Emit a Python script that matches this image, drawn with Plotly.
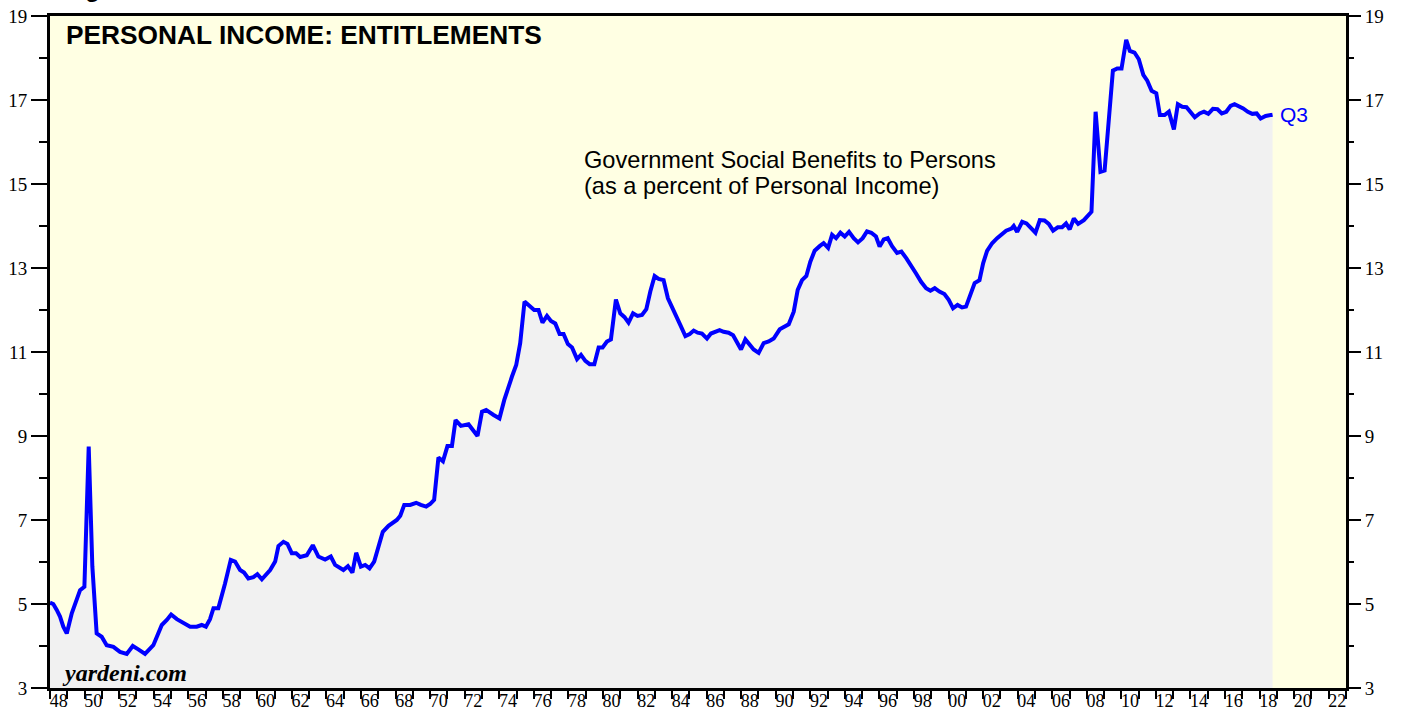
import plotly.graph_objects as go

# ---- data ----
years = [
    1948.00, 1948.19, 1948.39, 1948.58, 1948.77, 1948.97, 1949.26, 1949.55, 1949.74, 1949.99,
    1950.24, 1950.45, 1950.70, 1950.99, 1951.28, 1951.67, 1952.05, 1952.44, 1952.79, 1953.11,
    1953.50, 1953.98, 1954.47, 1954.76, 1955.01, 1955.34, 1955.72, 1956.11, 1956.49, 1956.78,
    1957.02, 1957.26, 1957.46, 1957.74, 1958.13, 1958.46, 1958.71, 1959.00, 1959.23, 1959.48,
    1959.77, 1960.00, 1960.26, 1960.74, 1961.03, 1961.22, 1961.51, 1961.74, 1961.99, 1962.24,
    1962.48, 1962.86, 1963.21, 1963.53, 1963.92, 1964.25, 1964.50, 1964.98, 1965.24, 1965.50,
    1965.72, 1965.99, 1966.24, 1966.49, 1966.76, 1967.01, 1967.26, 1967.59, 1968.07, 1968.27,
    1968.50, 1968.84, 1969.19, 1969.46, 1969.77, 1970.00, 1970.23, 1970.48, 1970.74, 1971.00,
    1971.26, 1971.47, 1971.78, 1972.22, 1972.51, 1972.74, 1973.00, 1973.24, 1973.67, 1974.01,
    1974.29, 1974.54, 1974.73, 1974.98, 1975.21, 1975.46, 1975.75, 1976.02, 1976.27, 1976.50,
    1976.76, 1976.99, 1977.24, 1977.49, 1977.72, 1977.97, 1978.21, 1978.50, 1978.73, 1978.98,
    1979.23, 1979.50, 1979.75, 1979.98, 1980.23, 1980.46, 1980.75, 1981.00, 1981.25, 1981.48,
    1981.74, 1982.00, 1982.26, 1982.51, 1982.74, 1982.99, 1983.22, 1983.51, 1983.76, 1984.00,
    1984.25, 1984.48, 1984.77, 1985.02, 1985.25, 1985.48, 1985.73, 1986.02, 1986.25, 1986.50,
    1986.75, 1986.98, 1987.27, 1987.53, 1987.76, 1987.99, 1988.24, 1988.49, 1988.72, 1989.01,
    1989.30, 1989.59, 1989.88, 1990.23, 1990.52, 1990.75, 1991.04, 1991.27, 1991.52, 1991.77,
    1992.00, 1992.25, 1992.54, 1992.77, 1993.03, 1993.26, 1993.49, 1993.74, 1993.99, 1994.24,
    1994.51, 1994.76, 1995.03, 1995.28, 1995.53, 1995.80, 1996.01, 1996.25, 1996.48, 1996.73,
    1997.02, 1997.27, 1997.56, 1997.83, 1998.12, 1998.41, 1998.70, 1998.95, 1999.20, 1999.47,
    1999.76, 2000.01, 2000.26, 2000.52, 2000.78, 2001.01, 2001.26, 2001.51, 2001.79, 2002.00,
    2002.23, 2002.52, 2002.81, 2003.06, 2003.33, 2003.64, 2003.77, 2003.97, 2004.26, 2004.51,
    2004.78, 2005.03, 2005.28, 2005.55, 2005.80, 2006.05, 2006.32, 2006.57, 2006.80, 2007.01,
    2007.25, 2007.50, 2007.83, 2008.06, 2008.27, 2008.51, 2008.79, 2009.03, 2009.28, 2009.51,
    2009.76, 2010.01, 2010.28, 2010.49, 2010.76, 2011.01, 2011.27, 2011.50, 2011.75, 2012.02,
    2012.23, 2012.50, 2012.75, 2013.04, 2013.27, 2013.52, 2013.77, 2014.01, 2014.25, 2014.53,
    2014.78, 2015.03, 2015.30, 2015.56, 2015.81, 2016.07, 2016.32, 2016.55, 2016.80, 2017.05,
    2017.32, 2017.58, 2017.83, 2018.06, 2018.35, 2018.68, 2018.75,
]
benefits_pct = [
    5.03, 5.00, 4.86, 4.70, 4.46, 4.30, 4.78, 5.14, 5.33, 5.41,
    8.75, 5.90, 4.30, 4.22, 4.02, 3.98, 3.86, 3.81, 4.00, 3.92,
    3.81, 4.02, 4.50, 4.62, 4.75, 4.64, 4.54, 4.46, 4.46, 4.50,
    4.46, 4.64, 4.90, 4.90, 5.49, 6.05, 6.01, 5.81, 5.75, 5.61,
    5.64, 5.71, 5.59, 5.81, 6.01, 6.38, 6.48, 6.43, 6.21, 6.21,
    6.12, 6.16, 6.40, 6.13, 6.06, 6.13, 5.93, 5.81, 5.90, 5.75,
    6.22, 5.89, 5.93, 5.85, 6.01, 6.36, 6.72, 6.86, 7.00, 7.10,
    7.36, 7.36, 7.41, 7.36, 7.32, 7.38, 7.48, 8.49, 8.40, 8.76,
    8.76, 9.38, 9.24, 9.28, 9.14, 9.00, 9.58, 9.62, 9.50, 9.42,
    9.86, 10.21, 10.41, 10.69, 11.21, 12.20, 12.10, 12.00, 12.00, 11.70,
    11.86, 11.74, 11.68, 11.43, 11.43, 11.19, 11.11, 10.83, 10.93, 10.79,
    10.71, 10.71, 11.11, 11.11, 11.25, 11.30, 12.25, 11.92, 11.83, 11.70,
    11.92, 11.86, 11.88, 12.02, 12.44, 12.81, 12.74, 12.71, 12.28, 12.08,
    11.88, 11.64, 11.38, 11.43, 11.51, 11.46, 11.44, 11.32, 11.44, 11.48,
    11.52, 11.48, 11.46, 11.40, 11.25, 11.06, 11.30, 11.17, 11.06, 10.98,
    11.21, 11.25, 11.32, 11.54, 11.60, 11.66, 11.96, 12.48, 12.71, 12.81,
    13.15, 13.41, 13.52, 13.59, 13.48, 13.79, 13.71, 13.84, 13.75, 13.86,
    13.71, 13.61, 13.71, 13.87, 13.84, 13.75, 13.51, 13.68, 13.71, 13.52,
    13.36, 13.39, 13.23, 13.07, 12.87, 12.67, 12.52, 12.46, 12.52, 12.44,
    12.38, 12.24, 12.04, 12.12, 12.06, 12.08, 12.36, 12.64, 12.71, 13.11,
    13.41, 13.59, 13.71, 13.79, 13.89, 13.94, 14.00, 13.86, 14.10, 14.06,
    13.96, 13.84, 14.14, 14.13, 14.05, 13.89, 13.97, 13.97, 14.06, 13.92,
    14.18, 14.05, 14.14, 14.24, 14.34, 16.72, 15.29, 15.32, 16.52, 17.70,
    17.75, 17.75, 18.43, 18.17, 18.13, 17.97, 17.60, 17.46, 17.22, 17.16,
    16.64, 16.64, 16.72, 16.30, 16.90, 16.84, 16.83, 16.72, 16.59, 16.68,
    16.72, 16.67, 16.79, 16.78, 16.68, 16.72, 16.86, 16.90, 16.86, 16.80,
    16.72, 16.67, 16.68, 16.56, 16.62, 16.64, 16.65,
]

y_major = [3, 5, 7, 9, 11, 13, 15, 17, 19]
y_minor = [4, 6, 8, 10, 12, 14, 16, 18]
label_years = list(range(1948, 2023, 2))
x_labels = [f"{y % 100:02d}" for y in label_years]
last_label = "Q3"
note_lines = ["Government Social Benefits to Persons", "(as a percent of Personal Income)"]

SERIF = "Liberation Serif, Times New Roman, serif"
SANS = "Liberation Sans, Arial, sans-serif"
BLUE = "#0000ff"

fig = go.Figure()
fig.add_trace(go.Scatter(
    x=years, y=benefits_pct, mode="lines",
    line=dict(color=BLUE, width=4),
    fill="tozeroy", fillcolor="#f1f1f1",
    showlegend=False, hoverinfo="x+y",
))
# invisible trace for secondary axes
fig.add_trace(go.Scatter(x=[years[0]], y=[benefits_pct[0]], xaxis="x2", yaxis="y2",
                         mode="markers", marker=dict(opacity=0), showlegend=False, hoverinfo="skip"))

XR = [1948, 2023]
YR = [3, 19]

fig.update_layout(
    width=1405, height=719,
    margin=dict(l=50, r=59, t=16, b=31, autoexpand=False),
    paper_bgcolor="white",
    plot_bgcolor="#ffffe3",
    xaxis=dict(
        range=XR, showgrid=False, zeroline=False, automargin=False,
        tickmode="array", tickvals=list(range(1948, 2024)),
        ticks="outside", ticklen=8, tickwidth=2, tickcolor="black",
        showticklabels=False,
        showline=True, linecolor="black", linewidth=3, mirror=True,
    ),
    xaxis2=dict(
        range=XR, overlaying="x", side="bottom", showgrid=False, zeroline=False,
        automargin=False,
        tickmode="array", tickvals=[y + 0.5 for y in label_years], ticktext=x_labels,
        ticks="", ticklen=0, showline=False,
        tickfont=dict(family=SERIF, size=18, color="black"),
    ),
    yaxis=dict(
        range=YR, showgrid=False, zeroline=False, automargin=False,
        tickmode="array", tickvals=y_major, ticktext=[str(v) for v in y_major],
        ticks="outside", ticklen=16, tickwidth=2, tickcolor="black",
        tickfont=dict(family=SERIF, size=19, color="black"),
        minor=dict(tickmode="array", tickvals=y_minor, ticks="outside", ticklen=8,
                   tickwidth=2, tickcolor="black", showgrid=False),
        showline=True, linecolor="black", linewidth=3, mirror=True,
    ),
    yaxis2=dict(
        range=YR, overlaying="y", side="right", showgrid=False, zeroline=False,
        automargin=False,
        tickmode="array", tickvals=y_major, ticktext=[str(v) for v in y_major],
        ticks="outside", ticklen=14, tickwidth=2, tickcolor="black",
        tickfont=dict(family=SERIF, size=19, color="black"),
        minor=dict(tickmode="array", tickvals=y_minor, ticks="outside", ticklen=7,
                   tickwidth=2, tickcolor="black", showgrid=False),
        showline=False,
    ),
)

fig.add_annotation(
    text="<b>PERSONAL INCOME: ENTITLEMENTS</b>", xref="paper", yref="paper",
    x=0.011, y=0.997, xanchor="left", yanchor="top", showarrow=False,
    font=dict(family=SANS, size=26.3, color="black"),
)
for txt, yv in zip(note_lines, [15.57, 14.95]):
    fig.add_annotation(
        text=txt, xref="x", yref="y", x=1978.8, y=yv, xanchor="left", yanchor="middle",
        align="left", showarrow=False,
        font=dict(family=SANS, size=23.6, color="black"),
    )
fig.add_annotation(
    text="<b><i>yardeni.com</i></b>", xref="paper", yref="paper",
    x=0.008, y=0.0, xanchor="left", yanchor="bottom", showarrow=False,
    font=dict(family=SERIF, size=24, color="black"),
)
fig.add_annotation(
    text=last_label, xref="x", yref="y", x=years[-1] + 0.3, y=benefits_pct[-1],
    xanchor="left", yanchor="middle", showarrow=False,
    font=dict(family=SANS, size=21, color=BLUE),
)
fig.add_annotation(
    text="<b>Figure 1.</b>", xref="paper", yref="paper",
    x=0.0, y=1.0, xanchor="left", yanchor="bottom", yshift=12, xshift=12,
    showarrow=False, font=dict(family=SANS, size=24, color="black"),
)

fig.write_html(
    "out.html",
    config={"displayModeBar": False},
    post_script="document.body.style.margin='0';document.body.style.overflow='hidden';",
)
